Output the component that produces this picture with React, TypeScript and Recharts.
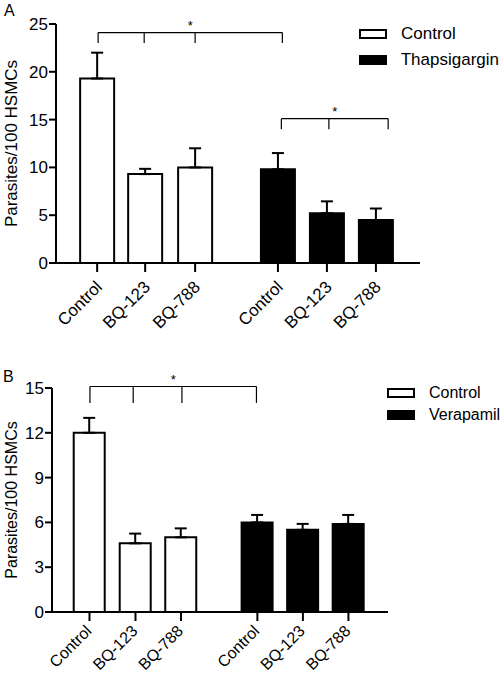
import React from 'react';
import {
  ComposedChart,
  Bar,
  Cell,
  XAxis,
  YAxis,
  ErrorBar,
  ReferenceLine,
  Legend
} from 'recharts';

// Panel A: Thapsigargin experiment
const labelsA = ['Control', 'BQ-123', 'BQ-788', 'Control', 'BQ-123', 'BQ-788'];
const groupsA = ['Control', 'Control', 'Control', 'Thapsigargin', 'Thapsigargin', 'Thapsigargin'];
const positionsA = [0, 0.98, 2, 3.69, 4.69, 5.69];
const meansA = [19.3, 9.3, 10.0, 9.8, 5.2, 4.5];
const semA = [2.7, 0.55, 2.0, 1.7, 1.25, 1.2];
const yTicksA = [0, 5, 10, 15, 20, 25];
const legendA = ['Control', 'Thapsigargin'];
// significance brackets: leg x positions, top y, leg bottom y
const bracketsA = [
  { xs: [0.02, 0.96, 2.0, 3.78], top: 24.1, bottom: 23.0 },
  { xs: [3.76, 4.73, 5.94], top: 15.1, bottom: 14.0 }
];

// Panel B: Verapamil experiment
const labelsB = ['Control', 'BQ-123', 'BQ-788', 'Control', 'BQ-123', 'BQ-788'];
const groupsB = ['Control', 'Control', 'Control', 'Verapamil', 'Verapamil', 'Verapamil'];
const positionsB = [0, 1.0, 1.99, 3.65, 4.64, 5.63];
const meansB = [12.0, 4.6, 5.0, 6.0, 5.5, 5.9];
const semB = [1.0, 0.65, 0.6, 0.5, 0.4, 0.6];
const yTicksB = [0, 3, 6, 9, 12, 15];
const legendB = ['Control', 'Verapamil'];
const bracketsB = [
  { xs: [0.01, 0.95, 2.01, 3.63], top: 15.1, bottom: 14.0 }
];

const FONT = '"Liberation Sans", Arial, sans-serif';

const buildRows = (positions: number[], means: number[], sem: number[], groups: string[], labels: string[]) =>
  positions.map((pos, i) => ({
    pos,
    mean: means[i],
    err: [0, sem[i]],
    group: groups[i],
    label: labels[i]
  }));

const RotatedTick = (props: any) => {
  const { x, y, payload, positions, labels, fontSize, dx, dy } = props;
  const i = positions.findIndex((p: number) => Math.abs(p - payload.value) < 1e-6);
  const tx = x + dx;
  const ty = y + dy;
  return (
    <text x={tx} y={ty} textAnchor="end" fontSize={fontSize} fill="#000" transform={`rotate(-45, ${tx}, ${ty})`}>
      {labels[i]}
    </text>
  );
};

const LegendBox = ({ items, rowHeight, fontSize }: { items: string[]; rowHeight: number; fontSize: number }) => (
  <div style={{ fontFamily: FONT }}>
    {items.map((name, i) => (
      <div key={name} style={{ display: 'flex', alignItems: 'center', height: rowHeight }}>
        <svg width={28} height={10} style={{ marginRight: 14 }}>
          <rect x={1} y={1} width={26} height={8} fill={i === 0 ? '#fff' : '#000'} stroke="#000" strokeWidth={2} />
        </svg>
        <span style={{ fontSize, color: '#000' }}>{name}</span>
      </div>
    ))}
  </div>
);

interface PanelProps {
  rows: ReturnType<typeof buildRows>;
  positions: number[];
  labels: string[];
  yTicks: number[];
  brackets: { xs: number[]; top: number; bottom: number }[];
  legend: string[];
  height: number;
  margin: { top: number; right: number; bottom: number; left: number };
  yWidth: number;
  xHeight: number;
  xDomain: [number, number];
  barSize: number;
  legendPos: { top: number; left: number };
  legendRow: number;
  fontSize: number;
  xFontSize: number;
  labelSize: number;
  tickShift: { dx: number; dy: number };
}

const Panel = (p: PanelProps) => (
  <ComposedChart width={502} height={p.height} data={p.rows} margin={p.margin}>
    <XAxis
      type="number"
      dataKey="pos"
      domain={p.xDomain}
      ticks={p.positions}
      allowDataOverflow
      interval={0}
      height={p.xHeight}
      axisLine={{ stroke: '#000', strokeWidth: 2 }}
      tickLine={{ stroke: '#000', strokeWidth: 2 }}
      tickSize={9}
      tickMargin={0}
      tick={
        <RotatedTick
          positions={p.positions}
          labels={p.labels}
          fontSize={p.xFontSize}
          dx={p.tickShift.dx}
          dy={p.tickShift.dy}
        />
      }
    />
    <YAxis
      type="number"
      domain={[p.yTicks[0], p.yTicks[p.yTicks.length - 1]]}
      ticks={p.yTicks}
      interval={0}
      width={p.yWidth}
      axisLine={{ stroke: '#000', strokeWidth: 2 }}
      tickLine={{ stroke: '#000', strokeWidth: 2 }}
      tickSize={7}
      tickMargin={1}
      tick={{ fill: '#000', fontSize: p.fontSize }}
      label={{
        value: 'Parasites/100 HSMCs',
        angle: -90,
        position: 'insideLeft',
        offset: 11,
        style: { textAnchor: 'middle', fill: '#000', fontSize: p.labelSize }
      }}
    />
    <Legend
      layout="horizontal"
      verticalAlign="top"
      wrapperStyle={{ position: 'absolute', top: p.legendPos.top, left: p.legendPos.left, width: 140, height: 0 }}
      content={() => <LegendBox items={p.legend} rowHeight={p.legendRow} fontSize={p.labelSize} />}
    />
    <Bar dataKey="mean" barSize={p.barSize} stroke="#000" strokeWidth={2} isAnimationActive={false}>
      {p.rows.map((r, i) => (
        <Cell key={i} fill={r.group === p.legend[0] ? '#fff' : '#000'} />
      ))}
      <ErrorBar dataKey="err" width={6} stroke="#000" strokeWidth={2} direction="y" isAnimationActive={false} />
    </Bar>
    {p.brackets.map((b, bi) => (
      <ReferenceLine
        key={`h${bi}`}
        segment={[{ x: b.xs[0], y: b.top }, { x: b.xs[b.xs.length - 1], y: b.top }]}
        stroke="#000"
        strokeWidth={1.2}
        ifOverflow="visible"
        label={{ value: '*', position: 'top', offset: 3, fill: '#000', fontSize: 13 }}
      />
    ))}
    {p.brackets.flatMap((b, bi) =>
      b.xs.map((x, li) => (
        <ReferenceLine
          key={`v${bi}-${li}`}
          segment={[{ x, y: b.top }, { x, y: b.bottom }]}
          stroke="#000"
          strokeWidth={1.2}
          ifOverflow="visible"
        />
      ))
    )}
  </ComposedChart>
);

export default function App() {
  const rowsA = buildRows(positionsA, meansA, semA, groupsA, labelsA);
  const rowsB = buildRows(positionsB, meansB, semB, groupsB, labelsB);
  return (
    <div style={{ position: 'absolute', left: 0, top: 0, width: 502, height: 678, background: '#fff', fontFamily: FONT }}>
      <div style={{ position: 'absolute', left: 4, top: 2, fontSize: 16 }}>A</div>
      <div style={{ position: 'absolute', left: 0, top: 0 }}>
        <Panel
          rows={rowsA}
          positions={positionsA}
          labels={labelsA}
          yTicks={yTicksA}
          brackets={bracketsA}
          legend={legendA}
          height={340}
          margin={{ top: 24, right: 82, bottom: 0, left: 0 }}
          yWidth={56}
          xHeight={77}
          xDomain={[-0.84, 6.59]}
          barSize={34}
          legendPos={{ top: 21, left: 359 }}
          legendRow={26}
          fontSize={17}
          xFontSize={17}
          labelSize={17}
          tickShift={{ dx: 6, dy: 16 }}
        />
      </div>
      <div style={{ position: 'absolute', left: 3, top: 368, fontSize: 16 }}>B</div>
      <div style={{ position: 'absolute', left: 0, top: 340 }}>
        <Panel
          rows={rowsB}
          positions={positionsB}
          labels={labelsB}
          yTicks={yTicksB}
          brackets={bracketsB}
          legend={legendB}
          height={338}
          margin={{ top: 48, right: 114, bottom: 0, left: 0 }}
          yWidth={52}
          xHeight={66}
          xDomain={[-0.815, 6.49]}
          barSize={31}
          legendPos={{ top: 42, left: 387 }}
          legendRow={22}
          fontSize={17}
          xFontSize={16}
          labelSize={16}
          tickShift={{ dx: 3, dy: 11 }}
        />
      </div>
    </div>
  );
}
